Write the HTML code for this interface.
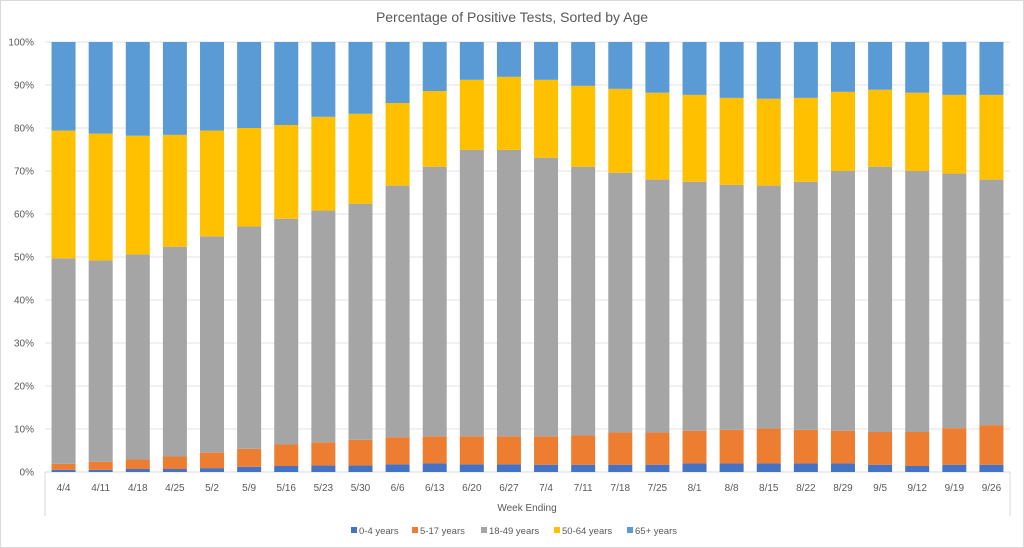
<!DOCTYPE html>
<html><head><meta charset="utf-8"><style>
body{margin:0;background:#fff;}
svg{display:block;font-family:"Liberation Sans",sans-serif;}
</style></head><body>
<svg id="chart" width="1024" height="548">
<rect x="0.5" y="0.5" width="1023" height="547" fill="#fff" stroke="#d9d9d9"/>
<text x="512" y="22" text-anchor="middle" font-size="14" fill="#595959">Percentage of Positive Tests, Sorted by Age</text>
<g id="grid"></g><g id="bars"></g><g id="xaxis"></g>
<text x="527" y="511" text-anchor="middle" font-size="10" fill="#595959">Week Ending</text>
<g id="legend"></g>
</svg>
<script>
const categories=["4/4","4/11","4/18","4/25","5/2","5/9","5/16","5/23","5/30","6/6","6/13","6/20","6/27","7/4","7/11","7/18","7/25","8/1","8/8","8/15","8/22","8/29","9/5","9/12","9/19","9/26"];
const age0to4=[0.5,0.5,0.7,0.7,0.9,1.2,1.4,1.5,1.5,1.8,2.0,1.8,1.8,1.7,1.7,1.7,1.7,2.0,2.0,2.0,2.0,2.0,1.7,1.4,1.7,1.7];
const age5to17=[1.4,1.9,2.2,2.9,3.6,4.2,5.0,5.4,6.0,6.3,6.3,6.5,6.5,6.6,6.8,7.5,7.5,7.6,7.8,8.1,7.8,7.6,7.6,7.9,8.5,9.2];
const age18to49=[47.8,46.8,47.7,48.8,50.3,51.7,52.5,53.9,54.9,58.5,62.7,66.6,66.6,64.8,62.5,60.4,58.8,57.9,57.0,56.5,57.7,60.4,61.7,60.7,59.2,57.1];
const age50to64=[29.7,29.5,27.6,26.0,24.6,22.9,21.8,21.8,20.9,19.2,17.6,16.3,17.0,18.1,18.8,19.5,20.2,20.2,20.2,20.2,19.5,18.4,17.9,18.2,18.3,19.7];
const age65plus=[20.6,21.3,21.8,21.6,20.6,20.0,19.3,17.4,16.7,14.2,11.4,8.8,8.1,8.8,10.2,10.9,11.8,12.3,13.0,13.2,13.0,11.6,11.1,11.8,12.3,12.3];
const seriesNames=["0-4 years","5-17 years","18-49 years","50-64 years","65+ years"];
const yTicks=[0,10,20,30,40,50,60,70,80,90,100];
const colors=["#4472c4","#ed7d31","#a5a5a5","#ffc000","#5b9bd5"];
const series=[age0to4,age5to17,age18to49,age50to64,age65plus];
const NS="http://www.w3.org/2000/svg";
const X0=45,X1=1010,Y0=472,Y1=42;
const step=(X1-X0)/categories.length,bw=24;
const y=v=>Y0-(v/100)*(Y0-Y1);
const xc=i=>X0+step*(i+0.5);
function mk(tag,attrs,parent){const e=document.createElementNS(NS,tag);for(const k in attrs)e.setAttribute(k,attrs[k]);parent.appendChild(e);return e;}
const grid=document.getElementById('grid');
yTicks.forEach(t=>{
  const l=mk('line',{x1:X0,x2:X1,y1:y(t),y2:y(t),stroke:t===0?'#d9d9d9':'#e3e3e3','stroke-width':1},grid);
  
  
  const tx=mk('text',{x:34,y:y(t)+3.5,'text-anchor':'end','font-size':10,fill:'#595959'},grid);
  tx.textContent=t+'%';
  
  
});
const bars=document.getElementById('bars');
categories.forEach((c,i)=>{
  let cum=0;
  series.forEach((s,k)=>{
    const v=s[i];
    const r=mk('rect',{x:xc(i)-bw/2,y:y(cum+v),width:bw,height:y(cum)-y(cum+v),fill:colors[k]},bars);
    
    
    cum+=v;
  });
});
const xa=document.getElementById('xaxis');
let vl=mk('line',{x1:X0,x2:X0,y1:Y0,y2:516,stroke:'#d9d9d9'},xa);


let vr=mk('line',{x1:X1,x2:X1,y1:Y0,y2:516,stroke:'#d9d9d9'},xa);


categories.forEach((c,i)=>{
  const t=mk('text',{x:xc(i),y:491,'text-anchor':'middle','font-size':10,fill:'#595959'},xa);
  t.textContent=c;
  
  
});
const lg=document.getElementById('legend');
const lx=[351,412,481,554,627];
seriesNames.forEach((n,k)=>{
  const g=mk('g',{},lg);
  
  
  mk('rect',{x:lx[k],y:527,width:6,height:6,fill:colors[k]},g);
  const t=mk('text',{x:lx[k]+8,y:534,'font-size':9.5,fill:'#595959'},g);
  t.textContent=n;
});
</script>
</body></html>
